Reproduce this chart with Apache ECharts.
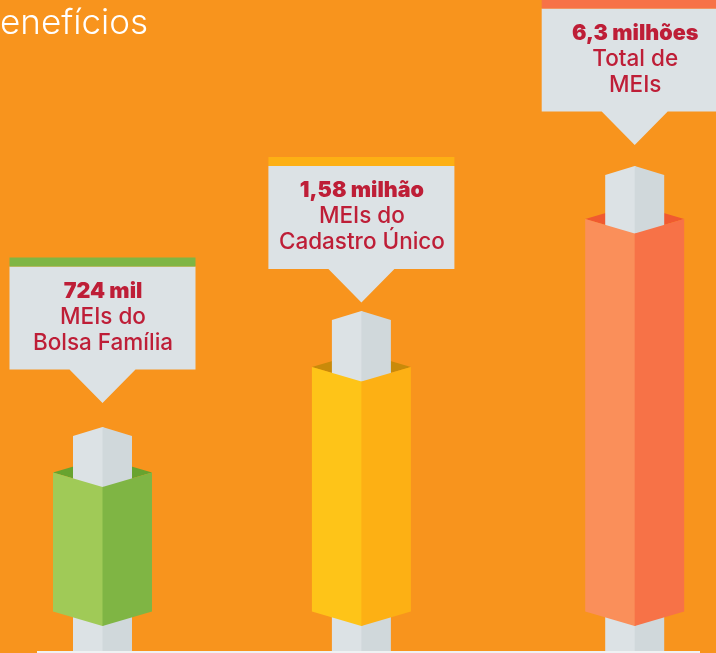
<!DOCTYPE html>
<html>
<head>
<meta charset="utf-8">
<script src="https://cdn.jsdelivr.net/npm/echarts@6/dist/echarts.min.js"></script>
<style>
	html, body { margin: 0; padding: 0; background: #F8941D; overflow: hidden; }
	#chart { width: 716px; height: 653px; }
</style>
</head>
<body>
<div id="chart"></div>
<script>
// data; the drawn heights are not proportional to the totals
var categories = ['Bolsa Família', 'Cadastro Único', 'Total'];
var barTops = [180.5, 286, 434];
var barBottoms = [41.5, 41.5, 41.5];
var poleTops = [226, 342, 487];
var calloutTips = [250, 350.5, 508];
var valueLabels = ['724 mil', '1,58 milhão', '6,3 milhões'];
var labelLine1 = ['MEIs do', 'MEIs do', 'Total de'];
var labelLine2 = ['Bolsa Família', 'Cadastro Único', 'MEIs'];

var lightColors = ['#A0CA57', '#FEC418', '#FA8F5A'];
var darkColors = ['#7FB544', '#FDB014', '#F77247'];
var topColors = ['#68A32F', '#C98A0A', '#F05A30'];
var xNudge = [0, -7.2, 0]; // the middle bar is not quite centred in the original

var font = '"Inter", sans-serif';
var red = '#BE1E37';

function poly(points, fill) {
	return { type: 'polygon', shape: { points: points }, style: { fill: fill } };
}

function renderBar(params, api) {
	var i = params.dataIndex;
	var x = api.coord([i, 0])[0] + xNudge[i];
	var top = api.coord([i, api.value(1)])[1];
	var bottom = api.coord([i, api.value(2)])[1];
	var poleTop = api.coord([i, api.value(3)])[1];
	var tip = api.coord([i, api.value(4)])[1];
	var base = api.coord([i, 0])[1];
	var w = 49.5, pw = 29.5, rise = 14.5, cw = 93;
	var boxBottom = tip - 33.5, boxTop = boxBottom - 103;

	var children = [
		// top face behind the pole
		poly([[x - w, top], [x, top - rise], [x + w, top], [x, top + rise]], topColors[i]),
		// pole, left face runs 1px under the right one so no seam shows
		poly([[x - pw, poleTop + 9], [x, poleTop], [x + 1, poleTop + 0.3], [x + 1, base], [x - pw, base]], '#DCE2E5'),
		poly([[x + pw, poleTop + 9], [x, poleTop], [x, base], [x + pw, base]], '#D0D8DB'),
		// front faces
		poly([[x - w, top], [x, top + rise], [x + 1, top + rise - 0.3], [x + 1, bottom + rise - 0.3], [x, bottom + rise], [x - w, bottom]], lightColors[i]),
		poly([[x + w, top], [x, top + rise], [x, bottom + rise], [x + w, bottom]], darkColors[i]),
		// callout
		poly([[x - cw, boxTop], [x + cw, boxTop], [x + cw, boxBottom], [x + 33, boxBottom], [x, tip], [x - 33, boxBottom], [x - cw, boxBottom]], '#DCE2E5'),
		{ type: 'rect', shape: { x: x - cw, y: boxTop - 9, width: cw * 2, height: 9 }, style: { fill: darkColors[i] } }
	];
	var lines = [valueLabels[i], labelLine1[i], labelLine2[i]];
	var ys = [tip - 111.5, tip - 86, tip - 60];
	for (var k = 0; k < 3; k++) {
		children.push({
			type: 'text',
			style: {
				text: lines[k],
				x: x + 0.5,
				y: ys[k],
				align: 'center',
				verticalAlign: 'middle',
				fill: red,
				font: (k == 0 ? '900 21.5px ' : '500 22.5px ') + font
			}
		});
	}
	return { type: 'group', children: children };
}

var chart = echarts.init(document.getElementById('chart'), null, { renderer: 'canvas' });
chart.setOption({
	animation: false,
	backgroundColor: '#F8941D',
	title: {
		text: 'enefícios',
		left: -5,
		top: 1,
		textStyle: { color: '#fff', fontFamily: font, fontWeight: 300, fontSize: 35 }
	},
	grid: { left: 102.5, right: 81.3, top: 0, bottom: 0 },
	xAxis: { type: 'category', data: categories, boundaryGap: false, show: false },
	yAxis: { type: 'value', min: 0, max: 653, show: false },
	series: [{
		type: 'custom',
		clip: false,
		renderItem: renderBar,
		encode: { x: 0, y: 1 },
		data: categories.map(function(c, i) {
			return [i, barTops[i], barBottoms[i], poleTops[i], calloutTips[i]];
		})
	}],
	graphic: [{
		type: 'rect',
		z: 100,
		shape: { x: 37, y: 651, width: 663, height: 2 },
		style: { fill: '#EFF2F3' }
	}]
});
</script>
</body>
</html>
